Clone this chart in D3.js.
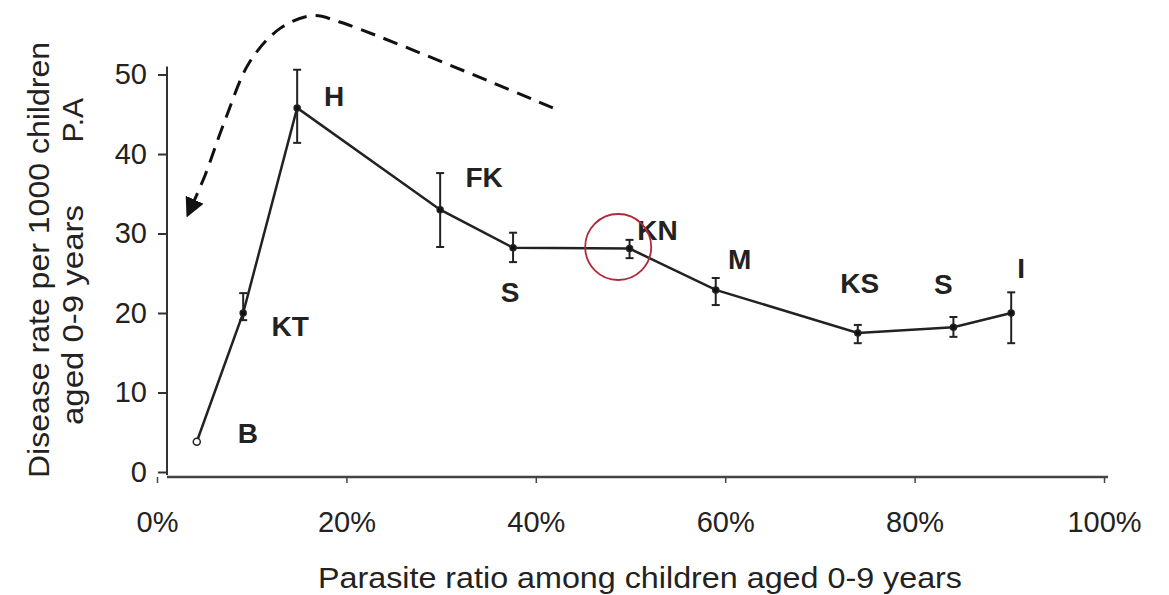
<!DOCTYPE html>
<html>
<head>
<meta charset="utf-8">
<script src="https://cdn.jsdelivr.net/npm/d3@7"></script>
<style>
  html, body { margin: 0; padding: 0; background: #fff; }
  svg { display: block; }
  text { font-family: "Liberation Sans", Arial, sans-serif; fill: #222; }
</style>
</head>
<body>
<svg id="chart" width="1169" height="595"></svg>
<script>
// ---- data ----
const categories = ["B", "KT", "H", "FK", "S", "KN", "M", "KS", "S", "I"];
const parasiteRatio = [4.2, 9.1, 14.8, 29.9, 37.6, 49.9, 59.0, 74.0, 84.1, 90.2];
const diseaseRate = [3.8, 20.0, 45.8, 33.0, 28.2, 28.1, 22.9, 17.5, 18.2, 20.0];
const errLow = [3.8, 19.1, 41.4, 28.3, 26.4, 26.9, 21.0, 16.2, 17.0, 16.2];
const errHigh = [3.8, 22.5, 50.6, 37.6, 30.1, 29.2, 24.4, 18.5, 19.5, 22.6];
const xTicks = [0, 20, 40, 60, 80, 100];
const yTicks = [0, 10, 20, 30, 40, 50];
const xTitle = "Parasite ratio among children aged 0-9 years";
const yTitle1 = "Disease rate per 1000 children";
const yTitle2a = "aged 0-9 years";
const yTitle2b = "P.A";
// annotation arrow path (data coordinates)
const arrowX = [41.8, 19.3, 16.4, 13.0, 9.8, 7.2, 5.1, 3.8];
const arrowY = [45.8, 56.6, 57.4, 55.8, 51.6, 44.3, 37.4, 33.8];
// highlighted point (KN) circle centre
const circleX = [48.7];
const circleY = [28.3];

// ---- layout ----
const svg = d3.select("#chart");
const x = d3.scaleLinear().domain([0, 100]).range([157, 1104]);
const y = d3.scaleLinear().domain([0, 50]).range([472, 74.5]);
const yAxisX = 167, xAxisY = 477;

const data = categories.map((c, i) => ({
  name: c, x: parasiteRatio[i], y: diseaseRate[i], lo: errLow[i], hi: errHigh[i]
}));

// label offsets (px) per point index
const labelOffset = [[51, -8], [47, 13], [37, -11], [44, -32], [-3, 45], [28, -18], [24, -30], [2, -49], [-10, -43], [10, -45]];

// y axis
const yAxis = svg.append("g")
  .attr("transform", `translate(${yAxisX},0)`)
  .call(d3.axisLeft(y).tickValues(yTicks).tickSize(9).tickPadding(11).tickFormat(d3.format("d")));
yAxis.select(".domain").remove();
yAxis.append("line").attr("x1", 0).attr("x2", 0).attr("y1", y(0) + 3).attr("y2", y(50) - 8)
  .attr("stroke", "#333").attr("stroke-width", 2);
yAxis.selectAll(".tick line").attr("stroke", "#333").attr("stroke-width", 2);
yAxis.selectAll(".tick text").style("font-size", "29px").attr("fill", "#222");

// x axis
const xAxis = svg.append("g")
  .attr("transform", `translate(0,${xAxisY})`)
  .call(d3.axisBottom(x).tickValues(xTicks).tickSize(6).tickPadding(28).tickFormat(d => d + "%"));
xAxis.select(".domain").remove();
xAxis.append("line").attr("x1", yAxisX).attr("x2", x(100) + 4).attr("y1", 0).attr("y2", 0)
  .attr("stroke", "#444").attr("stroke-width", 2.5);
xAxis.selectAll(".tick line").attr("stroke", "#444").attr("stroke-width", 1.5);
xAxis.selectAll(".tick text").style("font-size", "29px").attr("fill", "#222");

// axis titles
svg.append("text")
  .attr("transform", `translate(38,478) rotate(-90)`)
  .attr("text-anchor", "start").attr("dominant-baseline", "central")
  .attr("textLength", 436).attr("lengthAdjust", "spacingAndGlyphs")
  .style("font-size", "30px").text(yTitle1);
svg.append("text")
  .attr("transform", `translate(72,425) rotate(-90)`)
  .attr("text-anchor", "start").attr("dominant-baseline", "central")
  .attr("textLength", 220).attr("lengthAdjust", "spacingAndGlyphs")
  .style("font-size", "30px").text(yTitle2a);
svg.append("text")
  .attr("transform", `translate(72,98) rotate(-90)`)
  .attr("text-anchor", "end").attr("dominant-baseline", "central")
  .style("font-size", "30px").text(yTitle2b);
svg.append("text")
  .attr("x", 640).attr("y", 578)
  .attr("text-anchor", "middle").attr("dominant-baseline", "central")
  .attr("textLength", 644).attr("lengthAdjust", "spacingAndGlyphs")
  .style("font-size", "29px").text(xTitle);

// error bars
const eb = svg.append("g").attr("stroke", "#222").attr("stroke-width", 2);
data.filter(d => d.hi > d.lo).forEach(d => {
  eb.append("line").attr("x1", x(d.x)).attr("x2", x(d.x)).attr("y1", y(d.lo)).attr("y2", y(d.hi));
  eb.append("line").attr("x1", x(d.x) - 4).attr("x2", x(d.x) + 4).attr("y1", y(d.lo)).attr("y2", y(d.lo));
  eb.append("line").attr("x1", x(d.x) - 4).attr("x2", x(d.x) + 4).attr("y1", y(d.hi)).attr("y2", y(d.hi));
});

// main line
svg.append("path").datum(data)
  .attr("fill", "none").attr("stroke", "#222").attr("stroke-width", 2.5)
  .attr("d", d3.line().x(d => x(d.x)).y(d => y(d.y)));

// point markers
svg.append("g").selectAll("circle").data(data).join("circle")
  .attr("cx", d => x(d.x)).attr("cy", d => y(d.y))
  .attr("r", (d, i) => i === 0 ? 3.5 : 3)
  .attr("fill", (d, i) => i === 0 ? "#fff" : "#111")
  .attr("stroke", "#222").attr("stroke-width", 1.5);

// point labels
svg.append("g").selectAll("text").data(data).join("text")
  .attr("x", (d, i) => x(d.x) + labelOffset[i][0])
  .attr("y", (d, i) => y(d.y) + labelOffset[i][1])
  .attr("text-anchor", "middle").attr("dominant-baseline", "central")
  .style("font-size", "28px").style("font-weight", "bold")
  .text(d => d.name);

// red circle highlight
svg.append("circle")
  .attr("cx", x(circleX[0])).attr("cy", y(circleY[0])).attr("r", 33)
  .attr("fill", "none").attr("stroke", "#b0283a").attr("stroke-width", 1.8);

// dashed annotation arrow
const defs = svg.append("defs");
defs.append("marker").attr("id", "ah")
  .attr("viewBox", "0 0 10 10").attr("refX", 2).attr("refY", 5)
  .attr("markerWidth", 6.5).attr("markerHeight", 6.5).attr("markerUnits", "strokeWidth")
  .attr("orient", "auto")
  .append("path").attr("d", "M0,0 L10,5 L0,10 Z").attr("fill", "#111");
const arrowPts = arrowX.map((v, i) => [x(v), y(arrowY[i])]);
svg.append("path").datum(arrowPts)
  .attr("fill", "none").attr("stroke", "#111").attr("stroke-width", 3)
  .attr("stroke-dasharray", "15,9")
  .attr("marker-end", "url(#ah)")
  .attr("d", d3.line().curve(d3.curveCatmullRom.alpha(0.5)));
</script>
</body>
</html>
